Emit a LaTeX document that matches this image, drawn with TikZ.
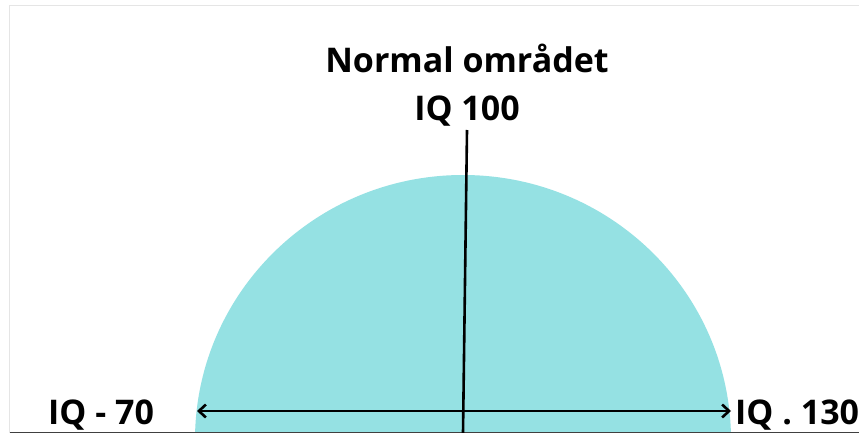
\documentclass[tikz,border=0pt]{standalone}
\usepackage{fontspec}
\setmainfont{Open Sans}
\usetikzlibrary{arrows.meta}
\definecolor{fillc}{HTML}{95E1E3}
\begin{document}
\begin{tikzpicture}[x=1pt,y=-1pt,
  lbl/.style={font=\fontsize{34}{36}\selectfont\bfseries, inner sep=0pt, text=black},
  ln/.style={line width=2.6pt, black}]
\useasboundingbox (0,0) rectangle (859,433);
\fill[white] (0,0) rectangle (859,433);
\begin{scope}
\clip (0,0) rectangle (859,433);
\fill[fillc] (463,440) ellipse [x radius=268, y radius=265];
\end{scope}
\draw[gray!20, line width=1pt] (9,433) -- (9,6) -- (859,6);
\draw[black!75, line width=1pt] (10,432) -- (859,432);
\node[lbl, anchor=base] (title) at (467,73) {Normal området};
\node[lbl, anchor=base] (iq100) at (467,121) {IQ 100};
\coordinate (vtop) at (467,130);
\coordinate (vbot) at (463,433);
\draw[ln] (vtop) -- (vbot);
\coordinate (aL) at (197,411);
\coordinate (aR) at (731,411);
\draw[ln, {Straight Barb[length=7pt,width=13pt]}-{Straight Barb[length=7pt,width=13pt]}] (aL) -- (aR);
\node[lbl, anchor=base west] (iq70) at (48,424) {IQ - 70};
\node[lbl, anchor=base west] (iq130) at (735,424) {IQ . 130};
\end{tikzpicture}
\end{document}
